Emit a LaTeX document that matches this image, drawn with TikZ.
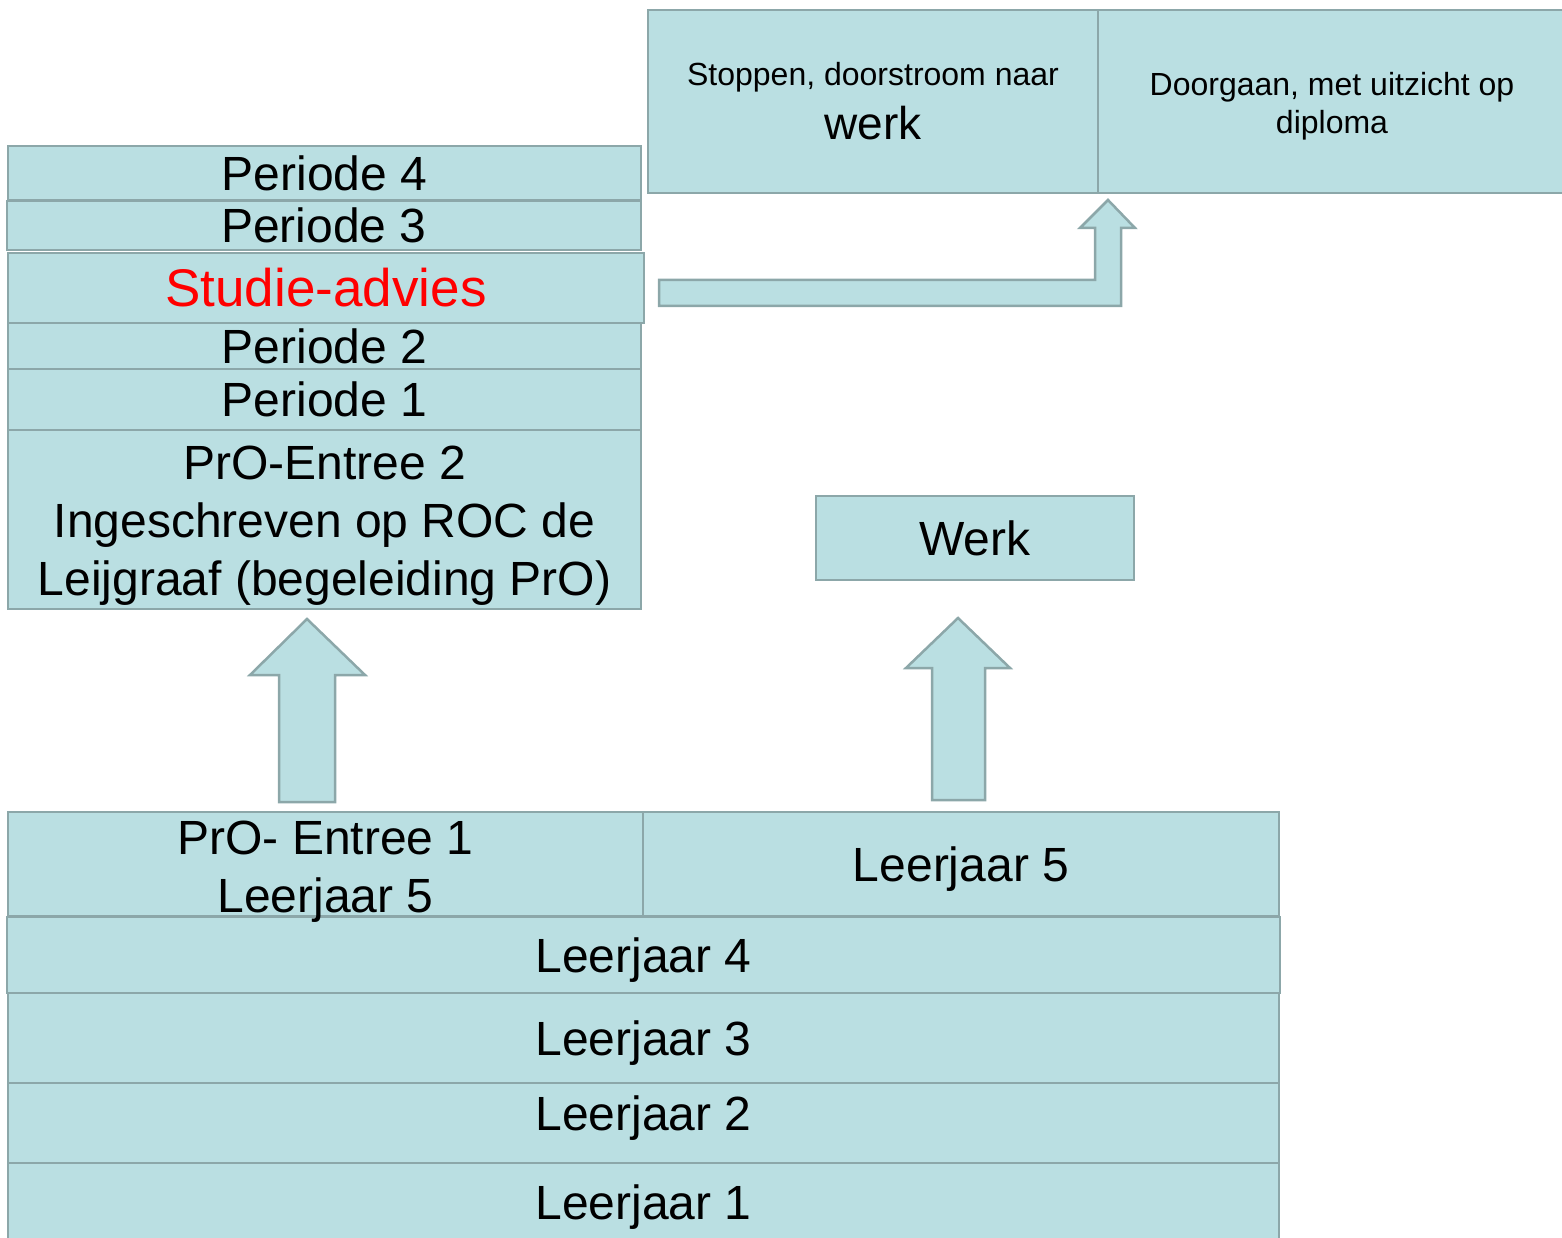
\documentclass[tikz,border=0pt]{standalone}
\usepackage{fontspec}
\setmainfont{Liberation Sans}
\usetikzlibrary{calc}

\definecolor{boxfill}{HTML}{BADFE2}
\definecolor{boxline}{HTML}{8CA7A9}
\definecolor{adviesred}{HTML}{FF0000}

\tikzset{
  band/.style={rectangle,draw=boxline,fill=boxfill,line width=2.5pt,inner sep=0pt,outer sep=0pt,
    align=center,font=\fontsize{48}{58}\selectfont},
  oneline/.style={text height=34.5pt,text depth=0pt},
  blockarrow/.style={draw=boxline,fill=boxfill,line width=2.5pt,line join=miter}
}

\begin{document}
\begin{tikzpicture}[x=1pt,y=-1pt]
    \useasboundingbox (0,0) rectangle (1562,1238);

    % top row: the two ways out
    \node[band,minimum width=450,minimum height=183] (stop) at (873,101.5)
        {\fontsize{32}{38}\selectfont Stoppen, doorstroom naar\\[-4pt]\fontsize{46}{53}\selectfont werk};
    \node[band,minimum width=468,minimum height=183,font=\fontsize{32}{38}\selectfont] (door) at (1332,101.5)
        {\rule{0pt}{32pt}Doorgaan, met uitzicht op\\diploma};

    % left column: PrO-Entree 2
    \node[band,oneline,minimum width=633,minimum height=54] (p4) at (324.5,173) {Periode 4};
    \node[band,oneline,minimum width=634,minimum height=49] (p3) at (324,225.5) {Periode 3};
    \node[band,minimum width=636,minimum height=70,text=adviesred,
          font=\fontsize{53}{60}\selectfont,text height=38pt,text depth=0pt] (advies) at (326,288) {Studie-advies};
    \node[band,oneline,minimum width=633,minimum height=46] (p2) at (324.5,346) {Periode 2};
    \node[band,oneline,minimum width=633,minimum height=61] (p1) at (324.5,399.5) {Periode 1};
    \node[band,minimum width=633,minimum height=179] (entree2) at (324.5,519.5)
        {\rule{0pt}{46.5pt}PrO-Entree 2\\Ingeschreven op ROC de\\Leijgraaf (begeleiding PrO)};

    \node[band,oneline,minimum width=318,minimum height=84] (werk) at (975,538) {Werk};

    % bottom: the school years
    \node[band,oneline,minimum width=1271,minimum height=79] (lj1) at (643.5,1202.5) {Leerjaar 1};
    \node[band,oneline,text depth=20pt,minimum width=1271,minimum height=80] (lj2) at (643.5,1123) {Leerjaar 2};
    \node[band,oneline,text depth=-6pt,minimum width=1271,minimum height=90] (lj3) at (643.5,1038) {Leerjaar 3};
    \node[band,oneline,text depth=-6pt,minimum width=1273,minimum height=76] (lj4) at (643.5,955) {Leerjaar 4};
    \node[band,minimum width=635,minimum height=104] (entree1) at (325.5,864)
        {\rule{0pt}{38.5pt}PrO- Entree 1\\\smash{Leerjaar 5}};
    \node[band,oneline,minimum width=636,minimum height=104] (lj5) at (961,864) {Leerjaar 5};

    % block arrows
    \coordinate (l-base) at ($(entree1.north)+(-18.5,-10)$);
    \coordinate (l-tip) at ($(entree2.south)+(-17.5,10)$);
    \draw[blockarrow] (l-base) ++(-28,0) -- ++(0,-127) -- ++(-29,0) -- (l-tip)
        -- ++(58,56) -- ++(-30,0) -- ++(0,127) -- cycle;

    \coordinate (r-base) at ($(lj5.north)+(-2.5,-12)$);
    \coordinate (r-tip) at ($(werk.south)+(-17,38)$);
    \draw[blockarrow] (r-base) ++(-26.5,0) -- ++(0,-132) -- ++(-26,0) -- (r-tip)
        -- ++(52,50) -- ++(-25,0) -- ++(0,132) -- cycle;

    \coordinate (b-start) at ($(advies.east)+(15,5)$);
    \coordinate (b-tip) at ($(stop.south east)+(10,7)$);
    \draw[blockarrow] (b-start) ++(0,-13) -- ++(436,0) -- ++(0,-52) -- ++(-15,0) -- (b-tip)
        -- ++(27,28) -- ++(-14,0) -- ++(0,78) -- ++(-462,0) -- cycle;
\end{tikzpicture}
\end{document}
